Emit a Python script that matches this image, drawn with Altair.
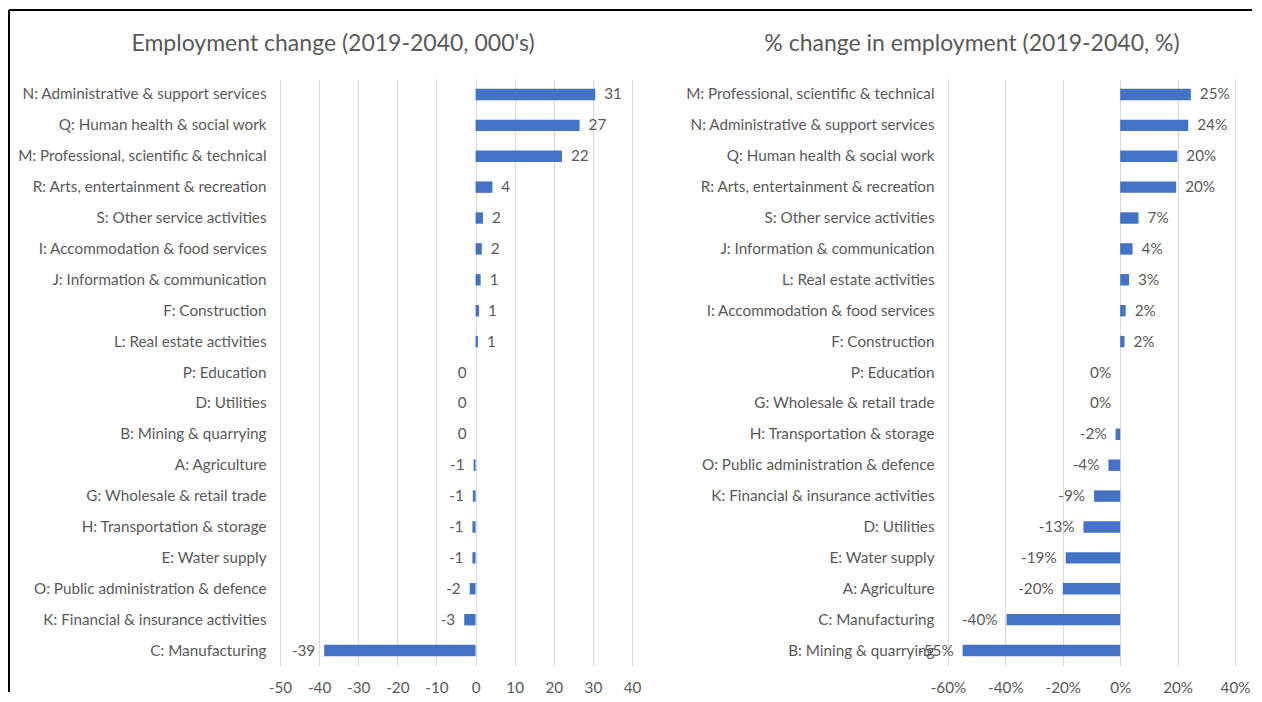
import altair as alt
import pandas as pd

# ---- data ----
left_cats = [
    "N: Administrative & support services",
    "Q: Human health & social work",
    "M: Professional, scientific & technical",
    "R: Arts, entertainment & recreation",
    "S: Other service activities",
    "I: Accommodation & food services",
    "J: Information & communication",
    "F: Construction",
    "L: Real estate activities",
    "P: Education",
    "D: Utilities",
    "B: Mining & quarrying",
    "A: Agriculture",
    "G: Wholesale & retail trade",
    "H: Transportation & storage",
    "E: Water supply",
    "O: Public administration & defence",
    "K: Financial & insurance activities",
    "C: Manufacturing",
]
left_vals = [30.6, 26.6, 22.1, 4.3, 1.9, 1.6, 1.3, 0.9, 0.6, 0.0, 0.0, 0.0,
             -0.5, -0.7, -0.8, -0.8, -1.5, -2.9, -38.7]
left_labels = ["31", "27", "22", "4", "2", "2", "1", "1", "1", "0", "0", "0",
               "-1", "-1", "-1", "-1", "-2", "-3", "-39"]
left_ticks = [-50, -40, -30, -20, -10, 0, 10, 20, 30, 40]

right_cats = [
    "M: Professional, scientific & technical",
    "N: Administrative & support services",
    "Q: Human health & social work",
    "R: Arts, entertainment & recreation",
    "S: Other service activities",
    "J: Information & communication",
    "L: Real estate activities",
    "I: Accommodation & food services",
    "F: Construction",
    "P: Education",
    "G: Wholesale & retail trade",
    "H: Transportation & storage",
    "O: Public administration & defence",
    "K: Financial & insurance activities",
    "D: Utilities",
    "E: Water supply",
    "A: Agriculture",
    "C: Manufacturing",
    "B: Mining & quarrying",
]
right_vals = [0.246, 0.237, 0.199, 0.195, 0.064, 0.043, 0.031, 0.019, 0.015, 0.0, 0.0,
              -0.016, -0.041, -0.091, -0.128, -0.190, -0.200, -0.396, -0.549]
right_labels = ["25%", "24%", "20%", "20%", "7%", "4%", "3%", "2%", "2%", "0%", "0%",
                "-2%", "-4%", "-9%", "-13%", "-19%", "-20%", "-40%", "-55%"]
right_ticks = [-0.6, -0.4, -0.2, 0.0, 0.2, 0.4]

FONT = "Lato"
GREY = "#595959"
BLUE = "#4472C4"
GRID = "#D9D9D9"
H = 587
LABEL_SIZE = 15.25
VAL_SIZE = 15.25
TITLE_SIZE = 23


def panel(cats, vals, labels, ticks, domain, width, label_expr, title, title_dx, title_offset):
    df = pd.DataFrame({"cat": cats, "val": vals, "lab": labels})
    y = alt.Y(
        "cat:N",
        sort=cats,
        scale=alt.Scale(paddingInner=0.63, paddingOuter=0.315),
        axis=alt.Axis(title=None, ticks=False, domain=False, grid=False,
                      labelFont=FONT, labelFontSize=LABEL_SIZE, labelColor=GREY,
                      labelPadding=14, labelLimit=500),
    )
    x = alt.X(
        "val:Q",
        scale=alt.Scale(domain=domain, nice=False, zero=False),
        axis=alt.Axis(title=None, ticks=False, domain=False, grid=True,
                      gridColor=GRID, gridWidth=1, values=ticks,
                      tickCount=len(ticks),
                      labelExpr=label_expr, labelFont=FONT,
                      labelFontSize=LABEL_SIZE, labelColor=GREY,
                      labelPadding=14, labelOverlap=False, labelFlush=False),
    )
    base = alt.Chart(df)
    bars = base.mark_bar(color=BLUE).encode(x=x, y=y)
    pos = base.transform_filter("datum.val > 0").mark_text(
        align="left", baseline="middle", dx=9, font=FONT,
        fontSize=VAL_SIZE, color=GREY
    ).encode(x="val:Q", y=alt.Y("cat:N", sort=cats), text="lab:N")
    neg = base.transform_filter("datum.val <= 0").mark_text(
        align="right", baseline="middle", dx=-9, font=FONT,
        fontSize=VAL_SIZE, color=GREY
    ).encode(x="val:Q", y=alt.Y("cat:N", sort=cats), text="lab:N")
    return alt.layer(bars, pos, neg).properties(
        width=width, height=H,
        title=alt.TitleParams(text=title, font=FONT, fontSize=TITLE_SIZE,
                              fontWeight="normal", color=GREY,
                              anchor="middle", frame="group",
                              baseline="middle", dx=title_dx,
                              offset=title_offset),
    )


left = panel(left_cats, left_vals, left_labels, left_ticks, [-50, 40], 352,
             "datum.value + ''", "Employment change (2019-2040, 000's)",
             -123, -58)

# frame lines (decoration)
frame_v = alt.Chart(pd.DataFrame({"a": [0]})).mark_rule(
    color="black", strokeWidth=2
).encode(x=alt.value(-271), y=alt.value(-69), y2=alt.value(613))
frame_h = alt.Chart(pd.DataFrame({"a": [0]})).mark_rule(
    color="black", strokeWidth=2
).encode(x=alt.value(-271), x2=alt.value(972), y=alt.value(-69))
left = alt.layer(left, frame_v, frame_h)

right = panel(right_cats, right_vals, right_labels, right_ticks, [-0.6, 0.4], 287,
              "round(datum.value * 100) + '%'",
              "% change in employment (2019-2040, %)", -119.5, 12)

chart = alt.hconcat(left, right, spacing=316, bounds="flush").properties(
    padding={"left": 0, "top": 1, "right": 0, "bottom": 0}
).configure(background="white").configure_view(strokeWidth=0)

chart.save("out.html", embed_options={"renderer": "svg", "actions": False})
